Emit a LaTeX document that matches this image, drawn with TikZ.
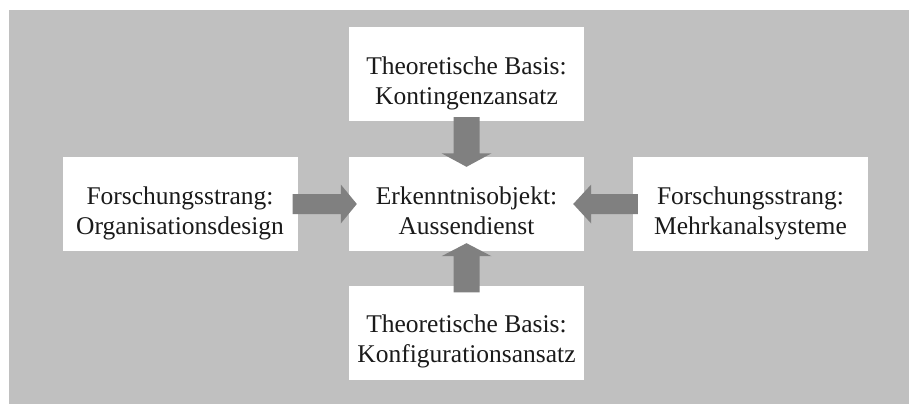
\documentclass[tikz,border=0pt]{standalone}
\usepackage{fontspec}
\setmainfont{Liberation Serif}
\usetikzlibrary{calc}
\definecolor{bggray}{HTML}{C0C0C0}
\definecolor{arrgray}{HTML}{808080}
\definecolor{txt}{HTML}{1A1A1A}
\tikzset{
  box/.style={fill=white, draw=none, minimum width=235pt, minimum height=94pt, inner sep=0pt,
    align=center, text=txt, font=\fontsize{25.5pt}{30pt}\selectfont,
    text height=60pt, text depth=0pt},
  bigarrow/.style={fill=arrgray, draw=none}
}
\begin{document}
\begin{tikzpicture}[x=1pt,y=-1pt]
\useasboundingbox (0,0) rectangle (909,404);
\fill[bggray] (9,10) rectangle (909,404);
\node[box] (t) at (466.5,74) {Theoretische Basis:\\Kontingenzansatz};
\node[box] (l) at (180,204) {Forschungsstrang:\\Organisationsdesign};
\node[box] (c) at (466.5,204) {Erkenntnisobjekt:\\Aussendienst};
\node[box] (r) at (750.5,204) {Forschungsstrang:\\Mehrkanalsysteme};
\node[box] (b) at (466.5,332.5) {Theoretische Basis:\\Konfigurationsansatz};
% top arrow
\fill[bigarrow] ($(t.south)+(-13,-4)$) -- ($(c.north)+(-13,-3.5)$) -- ($(c.north)+(-25,-3.5)$)
  -- ($(c.north)+(0,10)$) -- ($(c.north)+(25,-3.5)$) -- ($(c.north)+(13,-3.5)$)
  -- ($(t.south)+(13,-4)$) -- cycle;
% bottom arrow
\fill[bigarrow] ($(b.north)+(-13,7)$) -- ($(c.south)+(-13,5)$) -- ($(c.south)+(-25,5)$)
  -- ($(c.south)+(0,-8)$) -- ($(c.south)+(25,5)$) -- ($(c.south)+(13,5)$)
  -- ($(b.north)+(13,7)$) -- cycle;
% left arrow
\fill[bigarrow] ($(l.east)+(-5,-10)$) -- ($(c.west)+(-8,-10)$) -- ($(c.west)+(-8,-19.5)$)
  -- ($(c.west)+(8,0)$) -- ($(c.west)+(-8,19.5)$) -- ($(c.west)+(-8,10)$)
  -- ($(l.east)+(-5,10)$) -- cycle;
% right arrow
\fill[bigarrow] ($(r.west)+(5,-10)$) -- ($(c.east)+(7,-10)$) -- ($(c.east)+(7,-19.5)$)
  -- ($(c.east)+(-11,0)$) -- ($(c.east)+(7,19.5)$) -- ($(c.east)+(7,10)$)
  -- ($(r.west)+(5,10)$) -- cycle;
\end{tikzpicture}
\end{document}
